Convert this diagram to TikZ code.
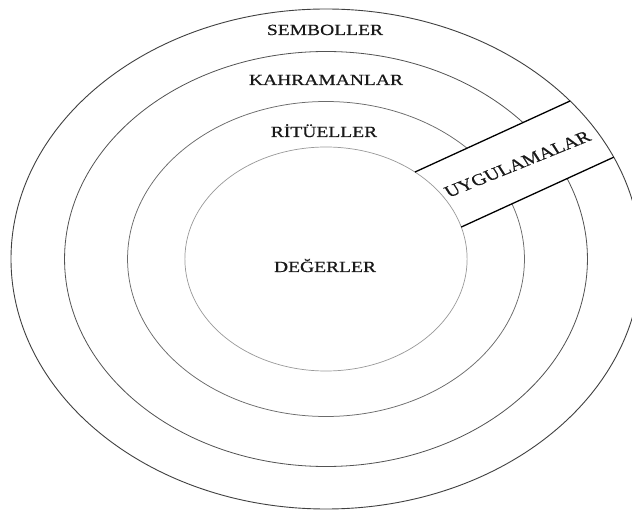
\documentclass[tikz,border=0pt]{standalone}
\usepackage{fontspec}
\setmainfont{Liberation Serif}
\newfontfamily\lblfont{Liberation Serif}[FakeBold=0.5]
\tikzset{
  ringA/.style={draw=black!75, line width=0.9pt},
  ringB/.style={draw=black!68, line width=0.8pt},
  ringC/.style={draw=black!58, line width=0.75pt},
  ringD/.style={draw=black!40, line width=0.7pt},
  bandline/.style={draw=black, line width=1.3pt},
  lbl/.style={font=\lblfont\fontsize{15.5}{18}\selectfont, inner sep=0pt, text=black!90},
}
\begin{document}
\begin{tikzpicture}[x=1pt,y=1pt]
\useasboundingbox (0,0) rectangle (632,509);
\clip (0,0) rectangle (632,509);
\fill[white] (0,0) rectangle (632,509);
\begin{scope}[shift={(326,250)}, xscale=1.26]
  \coordinate (c) at (0,0);
  \draw[ringB] (c) circle[radius=207.5];
  \draw[ringC] (c) circle[radius=157.5];
  \begin{scope}[rotate=30]
    \coordinate (u1) at (104.6,40);
    \coordinate (u2) at (246.8,40);
    \coordinate (l1) at (108.9,-26);
    \coordinate (l2) at (248.6,-26);
    \coordinate (f1) at (95,-26);
    \coordinate (f2) at (255,40);
    \fill[white] (f1) rectangle (f2);
  \end{scope}
  \draw[ringA] (c) circle[radius=250];
  \draw[ringD] (c) circle[radius=112];
  \draw[bandline] (u1) -- (u2);
  \draw[bandline] (l1) -- (l2);
  \node[lbl, font=\lblfont\fontsize{16.3}{19}\selectfont, anchor=base, rotate=27, transform shape] (uyg) at (154.4,90.2) {UYGULAMALAR};
\end{scope}
\node[lbl, xscale=1.26, anchor=base] (sem) at (325,474) {SEMBOLLER};
\node[lbl, xscale=1.26, anchor=base] (kah) at (326,424) {KAHRAMANLAR};
\node[lbl, xscale=1.26, anchor=base] (rit) at (324,372) {RİTÜELLER};
\node[lbl, xscale=1.26, anchor=base] (deg) at (325,237) {DEĞERLER};
\end{tikzpicture}
\end{document}
